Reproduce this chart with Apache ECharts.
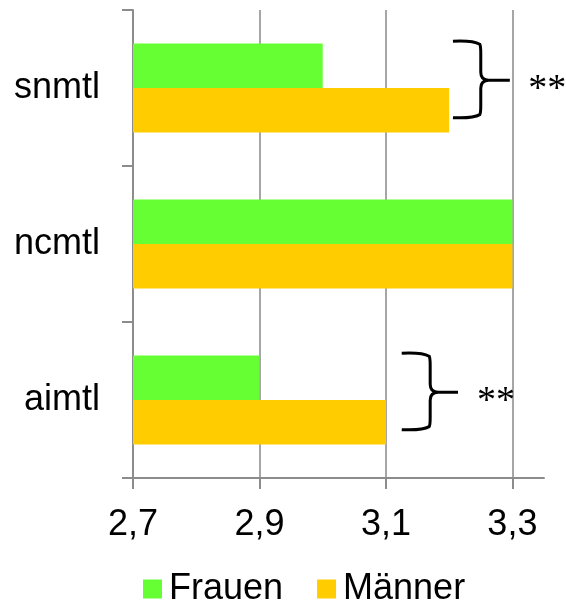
<!DOCTYPE html>
<html>
<head>
<meta charset="utf-8">
<script src="https://cdn.jsdelivr.net/npm/echarts@6/dist/echarts.min.js"></script>
<style>html,body{margin:0;padding:0;background:#fff}#c{width:566px;height:605px}</style>
</head>
<body>
<div id="c"></div>
<script>
// Data
const categories = ['snmtl', 'ncmtl', 'aimtl'];
const frauen = [3.0, 3.3, 2.9];
const maenner = [3.2, 3.3, 3.1];
const xTicks = [2.7, 2.9, 3.1, 3.3];
// significance brackets: category, bracket start, bracket spine, bracket tip, star position
const sigCategories = ['snmtl', 'aimtl'];
const sigStart = [3.206, 3.125];
const sigSpine = [3.25, 3.170];
const sigTip = [3.296, 3.214];
const sigStars = [3.355, 3.274];
const sigLabel = ['**', '**'];

const FONT = "'Liberation Sans', Arial, sans-serif";
const chart = echarts.init(document.getElementById('c'));

const sigData = sigCategories.map((c, i) => [sigStart[i], c, sigSpine[i], sigTip[i], sigStars[i]]);

chart.setOption({
  animation: false,
  grid: { left: 133, right: 22, top: 10, bottom: 127, containLabel: false },
  legend: {
    data: ['Frauen', 'Männer'],
    left: 143, top: 571, padding: 0,
    itemWidth: 19, itemHeight: 19, itemGap: 34, icon: 'rect',
    textStyle: { fontFamily: FONT, fontSize: 36, color: '#000', padding: [0, 0, 0, 2] }
  },
  xAxis: {
    type: 'value', min: 2.7, max: 3.35,
    axisLine: { show: true, lineStyle: { color: '#8c8c8c', width: 2 } },
    axisTick: { show: true, length: 11, customValues: xTicks, lineStyle: { color: '#8c8c8c', width: 2 } },
    axisLabel: { customValues: xTicks, margin: 29, fontFamily: FONT, fontSize: 36, color: '#000',
      formatter: v => v.toFixed(1).replace('.', ',') },
    splitLine: { show: true, lineStyle: { color: '#a6a6a6', width: 2 } }
  },
  yAxis: {
    type: 'category', inverse: true, data: categories,
    axisLine: { show: true, lineStyle: { color: '#8c8c8c', width: 2 } },
    axisTick: { show: true, length: 11, lineStyle: { color: '#8c8c8c', width: 2 } },
    axisLabel: { margin: 33, fontFamily: FONT, fontSize: 36, color: '#000' },
    splitLine: { show: false }
  },
  series: [
    { name: 'Frauen', type: 'bar', data: frauen, barWidth: 44.5, barGap: '0%',
      itemStyle: { color: '#66ff33' } },
    { name: 'Männer', type: 'bar', data: maenner, barWidth: 44.5, barGap: '0%',
      itemStyle: { color: '#ffcc00' } },
    { name: 'sig', type: 'custom', clip: false, silent: true, z: 10,
      encode: { x: [0, 2, 3, 4], y: 1 },
      data: sigData,
      renderItem: function (params, api) {
        const cat = api.value(1);
        const p0 = api.coord([api.value(0), cat]);
        const pv = api.coord([api.value(2), cat]);
        const pt = api.coord([api.value(3), cat]);
        const ps = api.coord([api.value(4), cat]);
        const bw = api.size([0, 1])[1];
        const yc = p0[1];
        const yt = yc - 0.30 * bw, yb = yc + 0.19 * bw, ym = yc - 0.05 * bw;
        const x0 = p0[0], xv = pv[0], xt = pt[0];
        const r = 8;
        const d = 'M' + x0 + ' ' + yt +
          ' Q' + (xv - r) + ' ' + (yt - 1) + ' ' + (xv - 1) + ' ' + (yt + 3) +
          ' Q' + xv + ' ' + (yt + 5) + ' ' + xv + ' ' + (yt + r + 4) +
          ' L' + xv + ' ' + (ym - r) +
          ' Q' + xv + ' ' + ym + ' ' + (xv + r) + ' ' + ym +
          ' L' + xt + ' ' + ym +
          ' M' + (xv + r) + ' ' + ym +
          ' Q' + xv + ' ' + ym + ' ' + xv + ' ' + (ym + r) +
          ' L' + xv + ' ' + (yb - r - 4) +
          ' Q' + xv + ' ' + (yb - 5) + ' ' + (xv - 1) + ' ' + (yb - 3) +
          ' Q' + (xv - r) + ' ' + (yb + 1) + ' ' + x0 + ' ' + yb;
        return {
          type: 'group',
          children: [
            { type: 'path', shape: { pathData: d },
              style: { stroke: '#000', lineWidth: 3, fill: null } },
            { type: 'text',
              style: { x: ps[0], y: yc + 2, text: sigLabel[params.dataIndex], align: 'center', verticalAlign: 'middle',
                font: "38px 'Liberation Serif', 'Times New Roman', serif", fill: '#000' } }
          ]
        };
      }
    }
  ]
});
</script>
</body>
</html>
